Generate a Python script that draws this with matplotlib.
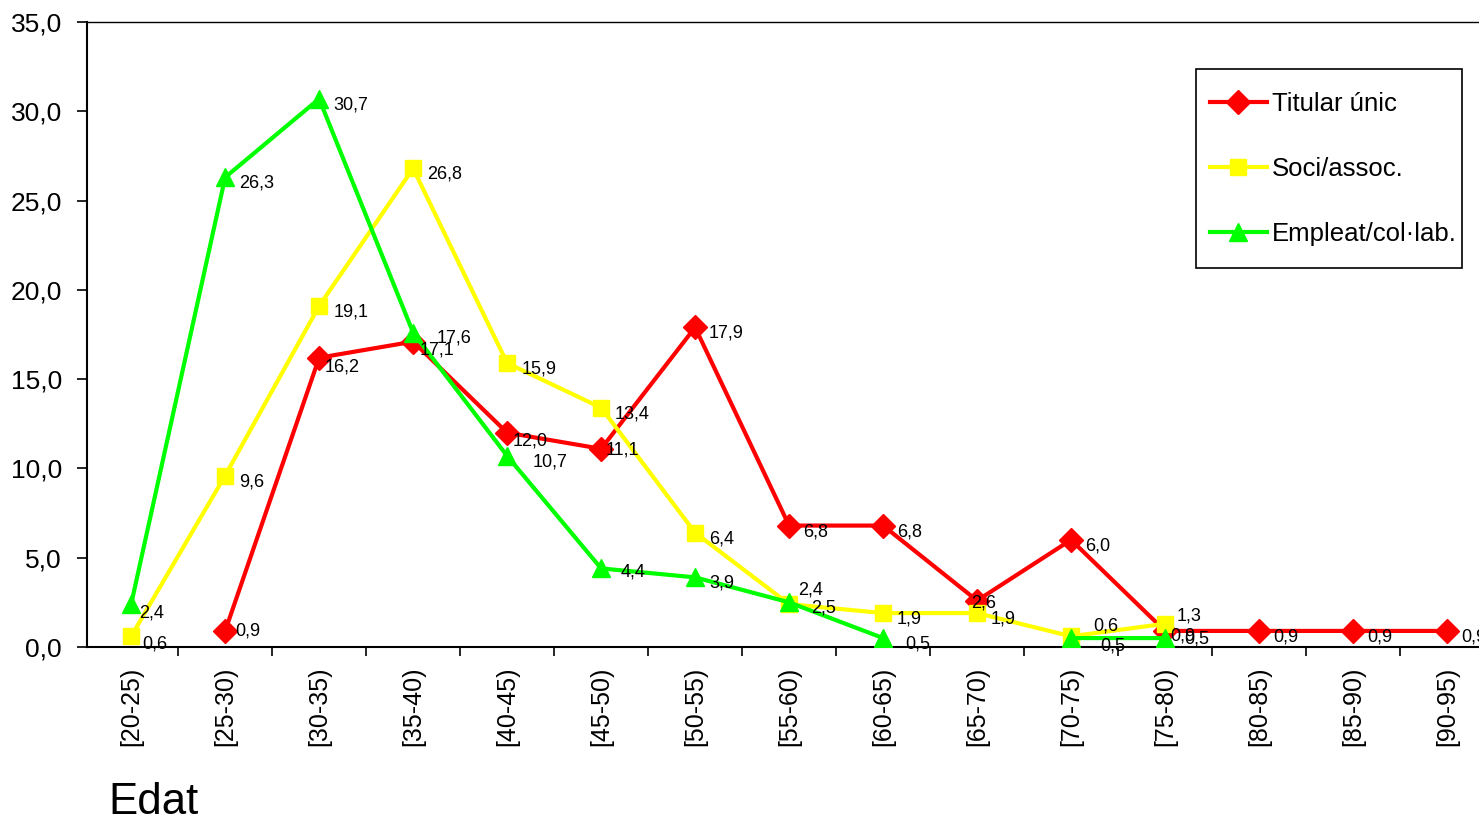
import numpy as np
import matplotlib
matplotlib.use("Agg")
import matplotlib.pyplot as plt
from matplotlib.patches import Rectangle
from matplotlib.ticker import FuncFormatter, FixedLocator

plt.rcParams['font.family'] = ['Liberation Sans', 'DejaVu Sans']

categories = ['[20-25)', '[25-30)', '[30-35)', '[35-40)', '[40-45)', '[45-50)',
              '[50-55)', '[55-60)', '[60-65)', '[65-70)', '[70-75)', '[75-80)',
              '[80-85)', '[85-90)', '[90-95)']
titular = [np.nan, 0.9, 16.2, 17.1, 12.0, 11.1, 17.9, 6.8, 6.8, 2.6, 6.0, 0.9, 0.9, 0.9, 0.9]
soci = [0.6, 9.6, 19.1, 26.8, 15.9, 13.4, 6.4, 2.4, 1.9, 1.9, 0.6, 1.3,
        np.nan, np.nan, np.nan]
empleat = [2.4, 26.3, 30.7, 17.6, 10.7, 4.4, 3.9, 2.5, 0.5, np.nan, 0.5, 0.5,
           np.nan, np.nan, np.nan]

series = [
    ('titular', 'Titular únic', titular, '#FF0000', 'D', 12),
    ('soci', 'Soci/assoc.', soci, '#FFFF00', 's', 12),
    ('empleat', 'Empleat/col·lab.', empleat, '#00FF00', '^', 13),
]

# label offsets in pixels (right, down); default plus hand moved ones
default_off = (14, 6)
label_off = {
    ('titular', 1): (10, 0), ('titular', 2): (5, 9), ('titular', 3): (6, 8),
    ('titular', 4): (5, 8), ('titular', 5): (5, 1), ('titular', 9): (-6, 2),
    ('titular', 11): (5, 5),
    ('soci', 0): (11, 8), ('soci', 7): (9, -14), ('soci', 10): (22, -10),
    ('soci', 11): (12, -8),
    ('empleat', 0): (8, 9), ('empleat', 3): (23, 5), ('empleat', 4): (25, 6),
    ('empleat', 5): (20, 4), ('empleat', 7): (22, 6), ('empleat', 8): (22, 6),
    ('empleat', 10): (29, 8), ('empleat', 11): (19, 1),
}

fig = plt.figure(figsize=(14.79, 8.19), dpi=100)
W, H = 1479, 819
ax = fig.add_axes([87 / W, (H - 647) / H, (1494 - 87) / W, (647 - 22) / H])

x = np.arange(len(categories))
for key, name, vals, col, mk, ms in series:
    ax.plot(x, vals, color=col, lw=3, marker=mk, markersize=ms,
            markerfacecolor=col, markeredgecolor=col, label=name, zorder=3)
    for xi, v in zip(x, vals):
        if np.isnan(v):
            continue
        dx, dy = label_off.get((key, xi), default_off)
        ax.annotate(f"{v:.1f}".replace('.', ','), (xi, v), xytext=(dx * 0.72, -dy * 0.72),
                    textcoords='offset points', ha='left', va='center',
                    fontsize=13, color='black', zorder=4, annotation_clip=False)

ax.set_xlim(-0.47, 14.5)
ax.set_ylim(0, 35)
ax.set_yticks(np.arange(0, 35.1, 5))
ax.yaxis.set_major_formatter(FuncFormatter(lambda v, p: f"{v:.1f}".replace('.', ',')))
ax.tick_params(axis='y', direction='out', length=7, width=1.2, pad=11, labelsize=19)

ax.set_xticks(x)
ax.set_xticklabels(categories, rotation=90, fontsize=18)
ax.xaxis.set_minor_locator(FixedLocator(np.arange(0.5, 14.6, 1)))
ax.tick_params(axis='x', which='major', length=0, pad=14)
ax.tick_params(axis='x', which='minor', direction='out', length=6.5, width=1.2)

ax.spines['left'].set_linewidth(1.5)
ax.spines['bottom'].set_linewidth(1.5)
ax.spines['top'].set_linewidth(1.0)
ax.spines['right'].set_visible(False)

# legend box drawn separately so its size can match the original
ax.add_patch(Rectangle((1196 / W, 1 - 268 / H), (1462 - 1196) / W, (268 - 69) / H,
                       transform=fig.transFigure, facecolor='white',
                       edgecolor='black', lw=1.2, zorder=5, clip_on=False))
leg = ax.legend(loc='upper left', bbox_to_anchor=(1210 / W, 1 - 92 / H),
                bbox_transform=fig.transFigure, fontsize=18.5, frameon=False,
                labelspacing=1.6, handlelength=2.2, handletextpad=0.22,
                borderpad=0, borderaxespad=0)
leg.set_zorder(6)

fig.text(108 / W, (H - 814) / H, 'Edat', fontsize=31.5, ha='left', va='baseline')

fig.savefig('out.png', dpi=100)
